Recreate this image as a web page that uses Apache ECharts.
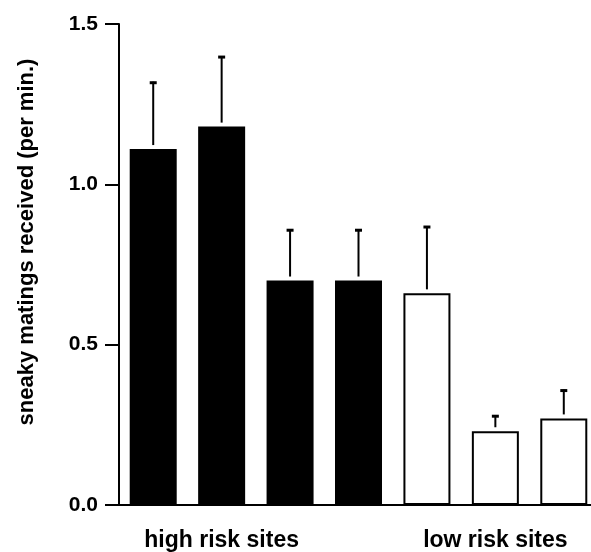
<!DOCTYPE html>
<html><head><meta charset="utf-8">
<script src="https://cdn.jsdelivr.net/npm/echarts@6/dist/echarts.min.js"></script>
<style>html,body{margin:0;padding:0;background:#fff;overflow:hidden}#c{width:600px;height:552px}</style>
</head><body><div id="c"></div>
<script>
var categories = ['H1','H2','H3','H4','L1','L2','L3'];
var tickLabels = ['', 'high risk sites', '', '', '', 'low risk sites', ''];
var highRisk = [1.11, 1.18, 0.70, 0.70, null, null, null];
var lowRisk = [null, null, null, null, 0.66, 0.23, 0.27];
var means = [1.11, 1.18, 0.70, 0.70, 0.66, 0.23, 0.27];
var upper = [1.32, 1.40, 0.86, 0.86, 0.87, 0.28, 0.36];
var yTicks = [0, 0.5, 1.0, 1.5];

var FONT = 'Liberation Sans';
var chart = echarts.init(document.getElementById('c'));
var errData = categories.map(function(c, i){ return [i, means[i], upper[i]]; });
chart.setOption({
  animation: false,
  grid: {left: 119, top: 24, right: 2, bottom: 47},
  xAxis: {
    type: 'category', data: categories,
    axisLine: {lineStyle: {color: '#000', width: 2}},
    axisTick: {show: false},
    axisLabel: {
      interval: 0, margin: 24,
      formatter: function(v, i){ return tickLabels[i]; },
      color: '#000', fontFamily: FONT, fontWeight: 'bold', fontSize: 23
    }
  },
  yAxis: {
    type: 'value', min: 0, max: 1.5, interval: 0.5,
    axisLine: {show: true, lineStyle: {color: '#000', width: 2}},
    axisTick: {show: true, length: 14, lineStyle: {color: '#000', width: 2}},
    splitLine: {show: false},
    axisLabel: {
      margin: 21, color: '#000', fontFamily: FONT, fontWeight: 'bold', fontSize: 21,
      formatter: function(v){ return yTicks.indexOf(v) >= 0 ? v.toFixed(1) : ''; }
    }
  },
  graphic: [{
    type: 'text',
    rotation: Math.PI/2, x: 27, y: 242,
    style: {text: 'sneaky matings received (per min.)', fill: '#000',
      font: 'bold 22px "Liberation Sans"', textAlign: 'center', textVerticalAlign: 'middle'}
  }],
  series: [
    {type: 'bar', data: highRisk, stack: 'a', barWidth: 47,
     itemStyle: {color: '#000'}},
    {type: 'bar', data: lowRisk, stack: 'a', barWidth: 46,
     itemStyle: {color: '#fff', borderColor: '#000', borderWidth: 2}},
    {type: 'custom', data: errData, z: 5,
     renderItem: function(params, api){
       var x = api.value(0);
       var p0 = api.coord([x, api.value(1)]);
       var p1 = api.coord([x, api.value(2)]);
       var st = {stroke: '#000', lineWidth: 2};
       return {type: 'group', children: [
         {type: 'line', shape: {x1: p0[0], y1: p0[1] - 4, x2: p1[0], y2: p1[1]}, style: st},
         {type: 'line', shape: {x1: p1[0] - 3.5, y1: p1[1] + 1, x2: p1[0] + 3.5, y2: p1[1] + 1}, style: {stroke: '#000', lineWidth: 3}}
       ]};
     }}
  ]
});
</script></body></html>
